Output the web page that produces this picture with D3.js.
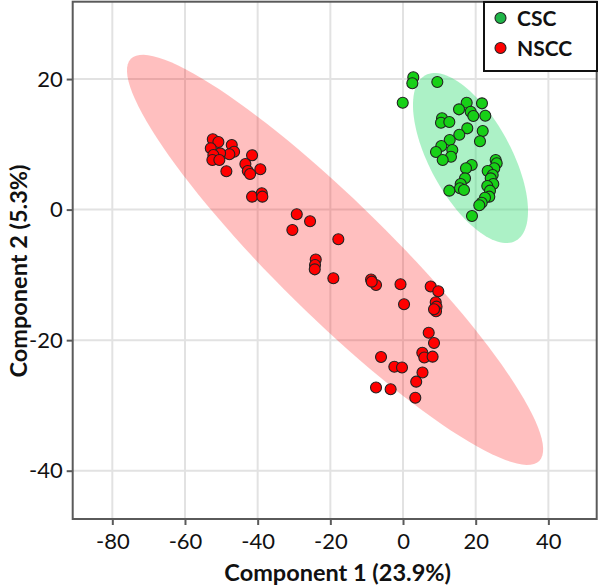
<!DOCTYPE html>
<html><head><meta charset="utf-8">
<script src="https://cdn.jsdelivr.net/npm/d3@7"></script>
<style>body{margin:0;background:#fff}svg{display:block}text{font-family:Lato,"Open Sans",sans-serif}</style>
</head><body><svg id="c" width="600" height="588"></svg>
<script>
// ---- data ----
const groups = ["CSC", "NSCC"];
const xTicks = [-80, -60, -40, -20, 0, 20, 40];
const yTicks = [-40, -20, 0, 20];
const xTitle = "Component 1 (23.9%)";
const yTitle = "Component 2 (5.3%)";
const cscX = [2.83,2.56,9.44,-0.08,17.52,15.41,21.73,18.62,19.34,22.64,10.73,10.45,12.74,17.69,15.49,21.93,21.18,12.85,10.54,9.08,13.56,13.20,10.92,25.50,25.78,25.12,18.90,17.33,23.30,24.68,24.13,17.06,15.87,24.84,23.19,15.68,16.78,12.74,23.93,23.74,22.56,21.65,20.99,18.98];
const cscY = [20.27,19.35,19.55,16.38,16.38,15.36,16.28,15.0,14.34,14.38,13.99,13.31,13.42,12.45,11.47,12.04,10.46,10.66,9.74,8.82,9.13,8.10,7.60,7.60,7.09,6.33,6.83,6.33,5.91,5.30,4.79,4.79,3.92,3.92,3.62,3.26,3.00,2.90,2.90,1.98,1.82,1.06,0.66,-0.98];
const nsccX = [-52.35,-50.81,-47.13,-52.90,-46.49,-47.79,-50.34,-52.19,-52.46,-50.54,-41.54,-43.38,-39.26,-42.72,-42.09,-48.61,-41.54,-38.87,-38.71,-29.24,-25.58,-30.45,-17.80,-24.02,-24.21,-24.29,-19.17,-8.80,-7.43,-8.61,-0.69,7.62,9.71,0.28,9.00,9.22,9.08,8.53,7.07,8.53,-6.05,5.31,5.86,8.14,-2.39,-0.28,5.36,3.63,-7.43,-3.41,3.38];
const nsccY = [10.77,10.36,9.90,9.39,8.87,8.47,8.62,8.36,7.60,7.60,8.32,6.99,6.17,5.91,5.45,5.87,1.98,2.50,1.98,-0.72,-1.79,-3.13,-4.55,-7.64,-8.49,-9.15,-10.52,-10.71,-11.55,-11.04,-11.44,-11.78,-12.52,-14.51,-14.19,-14.87,-15.58,-15.27,-18.86,-20.43,-22.58,-21.92,-22.66,-22.53,-24.07,-24.19,-24.95,-26.36,-27.25,-27.53,-28.83];
// confidence ellipses: center and two conjugate semi-axis vectors (data units)
const cscEllipse = {cx: 18.57, cy: 7.90, ax: 12.43, ay: -12.68, bx: -9.80, by: -2.98};
const nsccEllipse = {cx: -18.7, cy: -7.7, ax: 56.2, ay: -30.8, bx: -11.0, by: -6.2};

// ---- layout ----
const svg = d3.select("#c");
const L = 72.7, R = 596.7, T = 1.7, B = 519;
const x = d3.scaleLinear().domain([-90.9, 53.3]).range([L, R]);
const y = d3.scaleLinear().domain([-47.4, 31.85]).range([B, T]);
const colors = {CSC: "#17d017", NSCC: "#ff0000"};

// grid
svg.append("g").selectAll("line").data(xTicks).join("line")
  .attr("x1", d => x(d)).attr("x2", d => x(d)).attr("y1", T).attr("y2", B)
  .attr("stroke", "#e2e2e2").attr("stroke-width", 2);
svg.append("g").selectAll("line").data(yTicks).join("line")
  .attr("y1", d => y(d)).attr("y2", d => y(d)).attr("x1", L).attr("x2", R)
  .attr("stroke", "#e2e2e2").attr("stroke-width", 2);

// ellipses
function ellipsePts(e) {
  return d3.range(0, 121).map(i => {
    const t = i / 120 * 2 * Math.PI;
    return [e.cx + Math.cos(t) * e.ax + Math.sin(t) * e.bx, e.cy + Math.cos(t) * e.ay + Math.sin(t) * e.by];
  });
}
const line = d3.line().x(d => x(d[0])).y(d => y(d[1])).curve(d3.curveLinearClosed);
svg.append("path").attr("d", line(ellipsePts(nsccEllipse))).attr("fill", "#ff0000").attr("fill-opacity", 0.25);
svg.append("path").attr("d", line(ellipsePts(cscEllipse))).attr("fill", "#3ade78").attr("fill-opacity", 0.42);

// points
const nscc = nsccX.map((v, i) => [v, nsccY[i]]);
const csc = cscX.map((v, i) => [v, cscY[i]]);
svg.append("g").selectAll("circle").data(nscc).join("circle")
  .attr("cx", d => x(d[0])).attr("cy", d => y(d[1])).attr("r", 5.5)
  .attr("fill", colors.NSCC).attr("stroke", "#222").attr("stroke-width", 1.1);
svg.append("g").selectAll("circle").data(csc).join("circle")
  .attr("cx", d => x(d[0])).attr("cy", d => y(d[1])).attr("r", 5.5)
  .attr("fill", colors.CSC).attr("stroke", "#222").attr("stroke-width", 1.1);

// axes
const ax = svg.append("g").attr("transform", `translate(0,${B})`)
  .call(d3.axisBottom(x).tickValues(xTicks).tickSize(6).tickPadding(8));
const ay = svg.append("g").attr("transform", `translate(${L},0)`)
  .call(d3.axisLeft(y).tickValues(yTicks).tickSize(6).tickPadding(4));
[ax, ay].forEach(g => {
  g.select(".domain").remove();
  g.selectAll(".tick line").attr("stroke", "#5a5a5a").attr("stroke-width", 2);
  g.selectAll(".tick text").attr("fill", "#111").style("font-size", "22px").style("font-family", "Lato, sans-serif");
});
ax.selectAll(".tick text").text(d => d < 0 ? "-" + Math.abs(d) : d);
ay.selectAll(".tick text").text(d => d < 0 ? "-" + Math.abs(d) : d);

// frame
svg.append("rect").attr("x", L).attr("y", T).attr("width", R - L).attr("height", B - T)
  .attr("fill", "none").attr("stroke", "#5a5a5a").attr("stroke-width", 2);

// titles
svg.append("text").attr("x", (L + R) / 2 + 3).attr("y", 581).attr("text-anchor", "middle")
  .style("font-size", "23.5px").style("font-weight", "bold").attr("fill", "#111").text(xTitle);
svg.append("text").attr("transform", `translate(27,271) rotate(-90)`).attr("text-anchor", "middle")
  .style("font-size", "23.5px").style("font-weight", "bold").attr("fill", "#111").text(yTitle);

// legend
const lg = svg.append("g");
lg.append("rect").attr("x", 484).attr("y", 2).attr("width", 113).attr("height", 69)
  .attr("fill", "#fff").attr("stroke", "#111").attr("stroke-width", 2);
groups.forEach((gname, i) => {
  const cy = 18 + i * 30;
  lg.append("circle").attr("cx", 500.5).attr("cy", cy).attr("r", 5.5)
    .attr("fill", gname === "CSC" ? "#1fb548" : "#ff0000").attr("stroke", "#222").attr("stroke-width", 1.1);
  lg.append("text").attr("x", 517).attr("y", cy + 7.5).style("font-size", "21px").style("font-weight", "bold")
    .attr("fill", "#111").text(gname);
});
</script></body></html>
